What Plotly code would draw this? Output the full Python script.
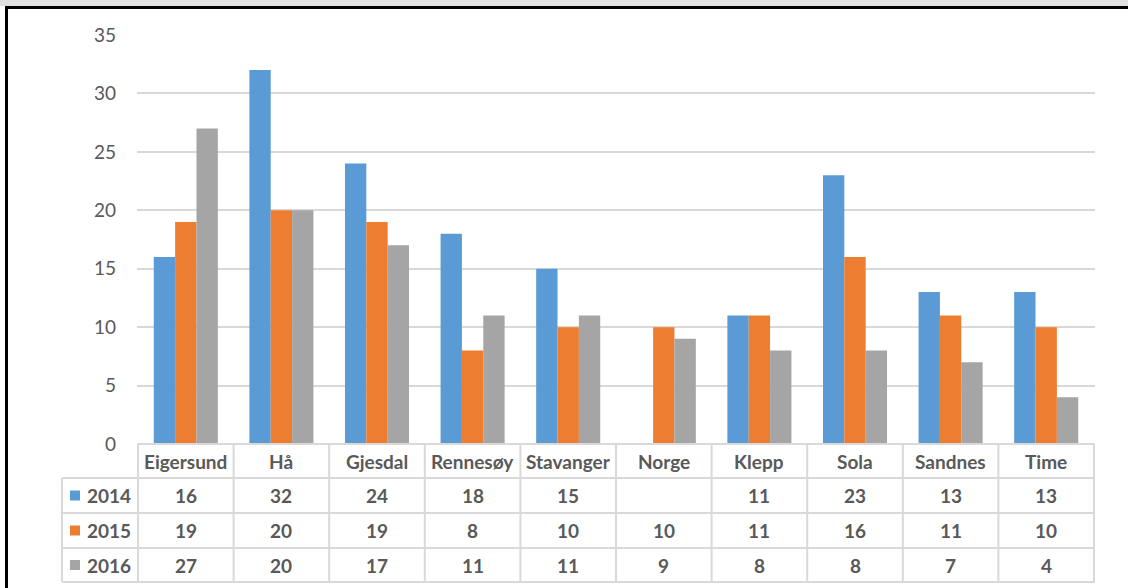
import plotly.graph_objects as go

# Data
categories = ["Eigersund", "Hå", "Gjesdal", "Rennesøy", "Stavanger",
              "Norge", "Klepp", "Sola", "Sandnes", "Time"]
series_names = ["2014", "2015", "2016"]
values_2014 = [16, 32, 24, 18, 15, None, 11, 23, 13, 13]
values_2015 = [19, 20, 19, 8, 10, 10, 11, 16, 11, 10]
values_2016 = [27, 20, 17, 11, 11, 9, 8, 8, 7, 4]
y_ticks = [0, 5, 10, 15, 20, 25, 30, 35]

colors = ["#5B9BD5", "#ED7D31", "#A5A5A5"]
series_values = [values_2014, values_2015, values_2016]

W, H = 1128, 588
L, R, T, B = 137, 33, 35, 144
PW, PH = W - L - R, H - T - B
FONT = "Lato"
TEXT = "#595959"
GRID = "#D9D9D9"
TABLE_FONT = dict(family=FONT, size=19, color=TEXT)


def xp(px):
    return (px - L) / PW


def yp(py):
    return (H - B - py) / PH


fig = go.Figure()
for name, vals, col in zip(series_names, series_values, colors):
    fig.add_trace(go.Bar(x=categories, y=vals, name=name, marker_color=col,
                         marker_line_width=0))

shapes = []
annotations = []

# data table geometry (pixel rows)
row_edges = [444, 478, 513, 548, 582]
legend_left = 62
line_style = dict(color=GRID, width=2)

# horizontal table lines
for i, py in enumerate(row_edges):
    x0 = xp(L) if i == 0 else xp(legend_left)
    shapes.append(dict(type="line", xref="paper", yref="paper",
                       x0=x0, x1=1, y0=yp(py), y1=yp(py), line=line_style,
                       layer="above"))
# vertical table lines at category boundaries
for i in range(len(categories) + 1):
    shapes.append(dict(type="line", xref="x", yref="paper",
                       x0=i - 0.5, x1=i - 0.5, y0=yp(row_edges[0]),
                       y1=yp(row_edges[-1]), line=line_style))
shapes.append(dict(type="line", xref="paper", yref="paper",
                   x0=xp(legend_left), x1=xp(legend_left),
                   y0=yp(row_edges[1]), y1=yp(row_edges[-1]), line=line_style))

# category header row
for i, c in enumerate(categories):
    annotations.append(dict(x=i, y=yp((row_edges[0] + row_edges[1]) / 2),
                            xref="x", yref="paper", text=f"<b>{c}</b>",
                            showarrow=False, xanchor="center",
                            yanchor="middle", font=TABLE_FONT))

# value rows with legend keys
for r, (name, vals, col) in enumerate(zip(series_names, series_values, colors)):
    yc = (row_edges[r + 1] + row_edges[r + 2]) / 2
    for i, v in enumerate(vals):
        if v is None:
            continue
        annotations.append(dict(x=i, y=yp(yc), xref="x", yref="paper",
                                text=f"<b>{v}</b>", showarrow=False,
                                xanchor="center", yanchor="middle",
                                font=TABLE_FONT))
    shapes.append(dict(type="rect", xref="paper", yref="paper",
                       x0=xp(70), x1=xp(80), y0=yp(yc + 5), y1=yp(yc - 5),
                       fillcolor=col, line_width=0))
    annotations.append(dict(x=xp(85), y=yp(yc), xref="paper", yref="paper",
                            text=f"<b>{name}</b>", showarrow=False,
                            xanchor="left", yanchor="middle",
                            font=TABLE_FONT))

# outer frame
shapes.append(dict(type="rect", xref="paper", yref="paper",
                   x0=xp(0), x1=xp(W), y0=yp(0), y1=yp(6),
                   fillcolor="#E0E0E0", line_width=0))
shapes.append(dict(type="rect", xref="paper", yref="paper",
                   x0=xp(5), x1=xp(W), y0=yp(6), y1=yp(9),
                   fillcolor="#000000", line_width=0))
shapes.append(dict(type="rect", xref="paper", yref="paper",
                   x0=xp(5), x1=xp(8), y0=yp(6), y1=yp(H),
                   fillcolor="#000000", line_width=0))

fig.update_layout(
    width=W, height=H,
    margin=dict(l=L, r=R, t=T, b=B),
    paper_bgcolor="white", plot_bgcolor="white",
    barmode="group", bargap=0.33, bargroupgap=0,
    showlegend=False,
    shapes=shapes, annotations=annotations,
    font=dict(family=FONT, color=TEXT),
)
fig.update_xaxes(showticklabels=False, showgrid=False, zeroline=False,
                 showline=False)
fig.update_yaxes(range=[0, 35], tickvals=y_ticks, showgrid=True,
                 gridcolor=GRID, gridwidth=1.5, zeroline=False, showline=False,
                 ticklabelstandoff=20,
                 tickfont=dict(family=FONT, size=19, color=TEXT))

fig.write_html("out.html")
